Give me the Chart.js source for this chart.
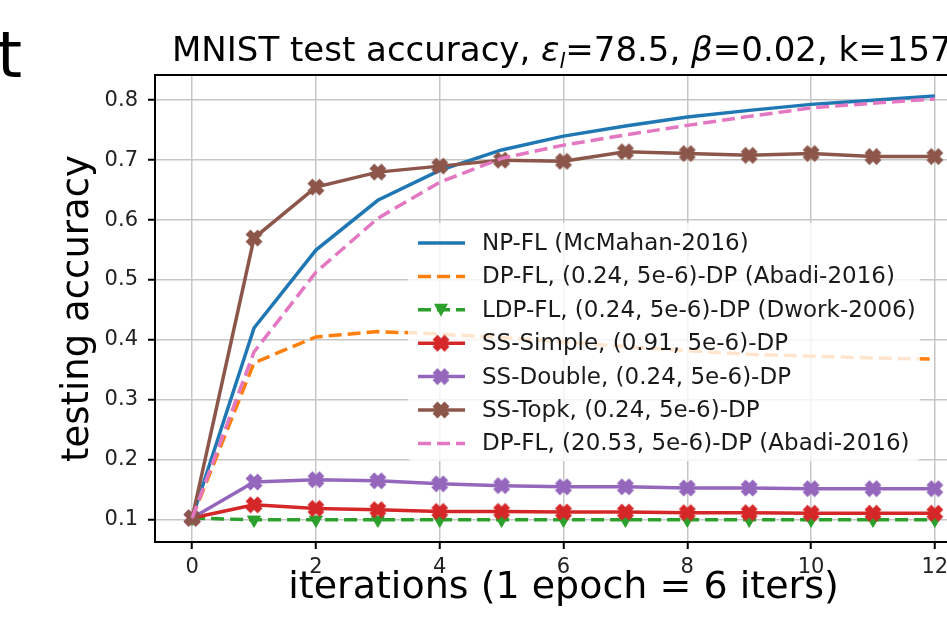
<!DOCTYPE html>
<html>
<head>
<meta charset="utf-8">
<script src="https://cdn.jsdelivr.net/npm/chart.js@4.4.0/dist/chart.umd.min.js"></script>
<style>
  html, body { margin: 0; padding: 0; background: #fff; overflow: hidden; }
  #wrap { position: absolute; left: 0; top: 0; width: 1000px; height: 624px; }
  #esquina { position: absolute; left: -3px; top: 23px; font: 64px "DejaVu Sans"; line-height: 64px; color: #000; }
</style>
</head>
<body>
<div id="wrap"><canvas id="grafico"></canvas></div>
<div id="esquina">t</div>
<script>
// datos
const iteraciones = [0, 1, 2, 3, 4, 5, 6, 7, 8, 9, 10, 11, 12];
const npFL     = [0.103, 0.420, 0.550, 0.633, 0.683, 0.717, 0.740, 0.757, 0.772, 0.783, 0.793, 0.800, 0.807];
const dpFL024  = [0.103, 0.362, 0.405, 0.414, 0.410, 0.404, 0.397, 0.389, 0.382, 0.376, 0.373, 0.370, 0.368];
const ldpFL    = [0.103, 0.100, 0.100, 0.100, 0.100, 0.100, 0.100, 0.100, 0.100, 0.100, 0.100, 0.100, 0.100];
const ssSimple = [0.103, 0.125, 0.119, 0.117, 0.114, 0.114, 0.113, 0.113, 0.112, 0.112, 0.111, 0.111, 0.111];
const ssDouble = [0.103, 0.163, 0.167, 0.165, 0.160, 0.157, 0.155, 0.155, 0.153, 0.153, 0.152, 0.152, 0.152];
const ssTopk   = [0.103, 0.570, 0.655, 0.680, 0.690, 0.700, 0.698, 0.714, 0.711, 0.708, 0.711, 0.706, 0.706];
const dpFL2053 = [0.103, 0.380, 0.513, 0.603, 0.663, 0.703, 0.725, 0.742, 0.758, 0.773, 0.787, 0.795, 0.802];

const nombres = [
  'NP-FL (McMahan-2016)',
  'DP-FL, (0.24, 5e-6)-DP (Abadi-2016)',
  'LDP-FL, (0.24, 5e-6)-DP (Dwork-2006)',
  'SS-Simple, (0.91, 5e-6)-DP',
  'SS-Double, (0.24, 5e-6)-DP',
  'SS-Topk, (0.24, 5e-6)-DP',
  'DP-FL, (20.53, 5e-6)-DP (Abadi-2016)'
];
const series = [npFL, dpFL024, ldpFL, ssSimple, ssDouble, ssTopk, dpFL2053];
const ticksX = [0, 2, 4, 6, 8, 10, 12];
const ticksY = [0.1, 0.2, 0.3, 0.4, 0.5, 0.6, 0.7, 0.8];
const tituloX = 'iterations (1 epoch = 6 iters)';
const tituloY = 'testing accuracy';
// [texto, cursiva, subindice]
const titulo = [
  ['MNIST test accuracy, ', false, false],
  ['ε', true, false],
  ['l', true, true],
  ['=78.5, ', false, false],
  ['β', true, false],
  ['=0.02, k=157', false, false]
];

const colores = ['#1f77b4', '#ff7f0e', '#2ca02c', '#d62728', '#9467bd', '#8c564b', '#e377c2'];
const trazos = [[], [13, 6], [13, 6], [], [], [], [13, 6]];
const FUENTE = '"DejaVu Sans"';

// marcador X relleno como el de matplotlib
function marcaX(color) {
  const c = document.createElement('canvas');
  c.width = 20; c.height = 20;
  const g = c.getContext('2d');
  g.strokeStyle = color;
  g.lineWidth = 7;
  g.beginPath();
  g.moveTo(4, 4); g.lineTo(16, 16);
  g.moveTo(16, 4); g.lineTo(4, 16);
  g.stroke();
  return c;
}

const marcas = [null, null, 'triangle', marcaX(colores[3]), marcaX(colores[4]), marcaX(colores[5]), null];

const datasets = series.map((serie, i) => ({
  label: nombres[i],
  data: iteraciones.map((x, j) => ({ x: x, y: serie[j] })),
  borderColor: colores[i],
  backgroundColor: colores[i],
  borderWidth: 3.5,
  borderDash: trazos[i],
  tension: 0,
  pointStyle: marcas[i] || 'circle',
  pointRadius: marcas[i] ? 7.5 : 0,
  pointRotation: marcas[i] === 'triangle' ? 180 : 0,
  pointBorderWidth: 1,
  order: series.length - i
}));

const pluginTitulo = {
  id: 'titulo',
  afterDraw(chart) {
    const ctx = chart.ctx;
    ctx.save();
    ctx.fillStyle = '#000';
    ctx.textBaseline = 'alphabetic';
    let x = 172;
    titulo.forEach(([txt, it, sub]) => {
      ctx.font = (it ? 'italic ' : '') + (sub ? 21 : 34) + 'px ' + FUENTE;
      ctx.fillText(txt, x, sub ? 68 : 61);
      x += ctx.measureText(txt).width;
    });
    ctx.restore();
  }
};

const pluginMarco = {
  id: 'marco',
  afterDraw(chart) {
    const a = chart.chartArea;
    const ctx = chart.ctx;
    ctx.save();
    ctx.strokeStyle = '#000';
    ctx.lineWidth = 2;
    ctx.beginPath();
    ctx.moveTo(a.left, a.top);
    ctx.lineTo(a.right, a.top);
    ctx.lineTo(a.right, a.bottom);
    ctx.stroke();
    ctx.restore();
  }
};

const pluginLeyenda = {
  id: 'leyenda',
  afterDraw(chart) {
    const ctx = chart.ctx;
    ctx.save();
    ctx.fillStyle = 'rgba(255,255,255,0.8)';
    ctx.beginPath();
    ctx.roundRect(408, 223, 512, 238, 4);
    ctx.fill();
    nombres.forEach((nombre, i) => {
      const y = 243 + i * 33.4;
      ctx.strokeStyle = colores[i];
      ctx.lineWidth = 3.5;
      ctx.setLineDash(trazos[i]);
      ctx.beginPath();
      ctx.moveTo(418, y);
      ctx.lineTo(465, y);
      ctx.stroke();
      ctx.setLineDash([]);
      const m = marcas[i];
      if (m === 'triangle') {
        ctx.fillStyle = colores[i];
        ctx.beginPath();
        ctx.moveTo(434, y - 6);
        ctx.lineTo(448, y - 6);
        ctx.lineTo(441, y + 7);
        ctx.closePath();
        ctx.fill();
      } else if (m) {
        ctx.drawImage(m, 441 - 10, y - 10);
      }
      ctx.fillStyle = '#1a1a1a';
      ctx.font = '23px ' + FUENTE;
      ctx.textBaseline = 'middle';
      ctx.fillText(nombre, 482, y + 1);
    });
    ctx.restore();
  }
};

new Chart(document.getElementById('grafico'), {
  type: 'line',
  data: { datasets: datasets },
  plugins: [pluginTitulo, pluginMarco, pluginLeyenda],
  options: {
    responsive: true,
    maintainAspectRatio: false,
    animation: false,
    layout: { padding: { top: 75, right: 28, left: 0, bottom: 0 } },
    plugins: {
      legend: { display: false },
      title: { display: false },
      tooltip: { enabled: false }
    },
    scales: {
      x: {
        type: 'linear',
        min: -0.6,
        max: 12.6,
        afterFit(s) { s.height = 82; },
        afterBuildTicks(s) { s.ticks = ticksX.map(v => ({ value: v })); },
        ticks: {
          stepSize: 2,
          includeBounds: false,
          padding: 6,
          color: '#222',
          font: { family: FUENTE, size: 21 }
        },
        grid: { color: '#c6c6c6', lineWidth: 1.5, tickColor: '#000', tickLength: 7, tickWidth: 2 },
        border: { color: '#000', width: 2 },
        title: {
          display: true,
          text: tituloX,
          color: '#000',
          font: { family: FUENTE, size: 38 },
          padding: { top: 0, bottom: 13 }
        }
      },
      y: {
        type: 'linear',
        min: 0.063,
        max: 0.842,
        afterFit(s) { s.width = 155; },
        afterBuildTicks(s) { s.ticks = ticksY.map(v => ({ value: v })); },
        ticks: {
          stepSize: 0.1,
          includeBounds: false,
          padding: 10,
          color: '#222',
          font: { family: FUENTE, size: 21 },
          callback: v => v.toFixed(1)
        },
        grid: { color: '#c6c6c6', lineWidth: 1.5, tickColor: '#000', tickLength: 7, tickWidth: 2 },
        border: { color: '#000', width: 2 },
        title: {
          display: true,
          text: tituloY,
          color: '#000',
          font: { family: FUENTE, size: 37 },
          padding: { top: 56, bottom: 0 }
        }
      }
    }
  }
});
</script>
</body>
</html>
